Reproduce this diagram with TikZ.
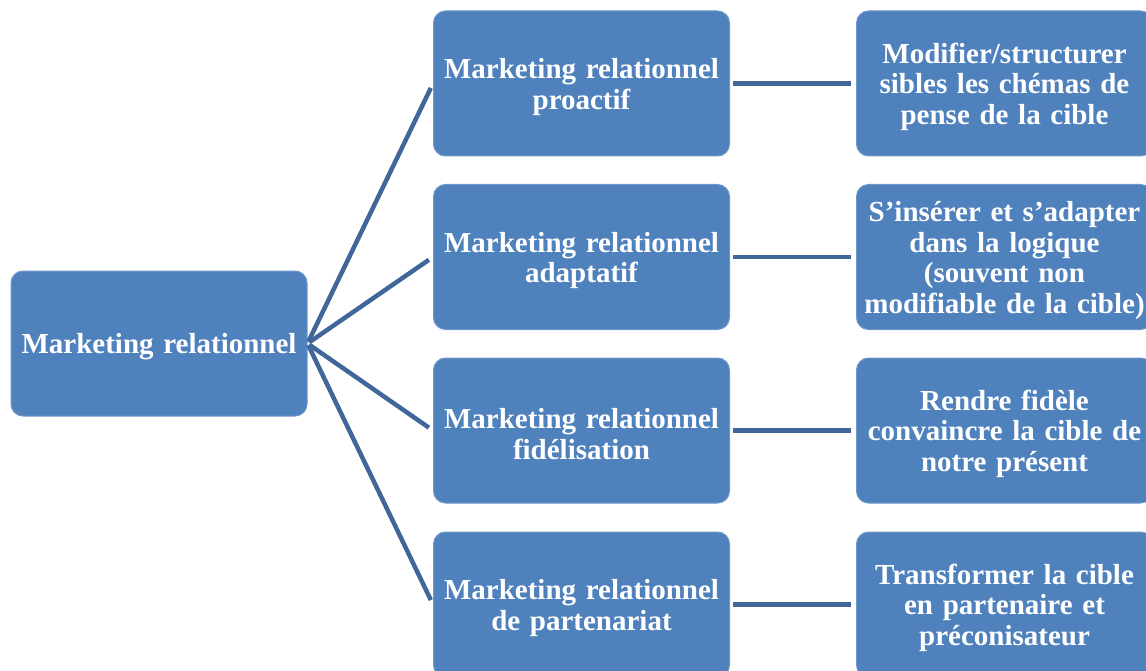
\documentclass[tikz,border=0pt]{standalone}
\usepackage{fontspec}
\setmainfont{Liberation Serif}
\definecolor{boxfill}{HTML}{4F81BD}
\definecolor{boxedge}{HTML}{6F97CB}
\definecolor{linkcol}{HTML}{41679A}
\begin{document}
\begin{tikzpicture}[x=1pt,y=-1pt,
  box/.style={draw=boxedge,line width=1pt,fill=boxfill,rounded corners=12pt,
    minimum width=296pt,minimum height=145pt,text width=290pt,align=center,
    text=white,font=\fontsize{29}{30.5}\selectfont\bfseries,inner sep=0pt,
    execute at begin node={\rule{0pt}{27pt}}},
  link/.style={draw=linkcol,line width=4.5pt}]
\useasboundingbox (0,0) rectangle (1146,671);
\node[box] (L) at (159,343.5) {Marketing relationnel};
\node[box] (M1) at (581.5,83.5) {Marketing relationnel\\proactif};
\node[box] (M2) at (581.5,257) {Marketing relationnel\\adaptatif};
\node[box] (M3) at (581.5,430.5) {Marketing relationnel\\fidélisation};
\node[box] (M4) at (581.5,604.5) {Marketing relationnel\\de partenariat};
\node[box] (R1) at (1004.5,83.5) {Modifier/structurer\\sibles les chémas de\\pense de la cible};
\node[box] (R2) at (1004.5,257) {S’insérer et s’adapter\\dans la logique\\(souvent non\\modifiable de la cible)};
\node[box] (R3) at (1004.5,430.5) {Rendre fidèle\\convaincre la cible de\\notre présent};
\node[box] (R4) at (1004.5,604.5) {Transformer la cible\\en partenaire et\\préconisateur};
\foreach \m in {M1,M2,M3,M4}{
  \draw[link,shorten <=2pt,shorten >=5pt] (L.east) -- (\m.west);
}
\foreach \a/\b in {M1/R1,M2/R2,M3/R3,M4/R4}{
  \draw[link,shorten <=3pt,shorten >=5pt] (\a.east) -- (\b.west);
}
\end{tikzpicture}
\end{document}
